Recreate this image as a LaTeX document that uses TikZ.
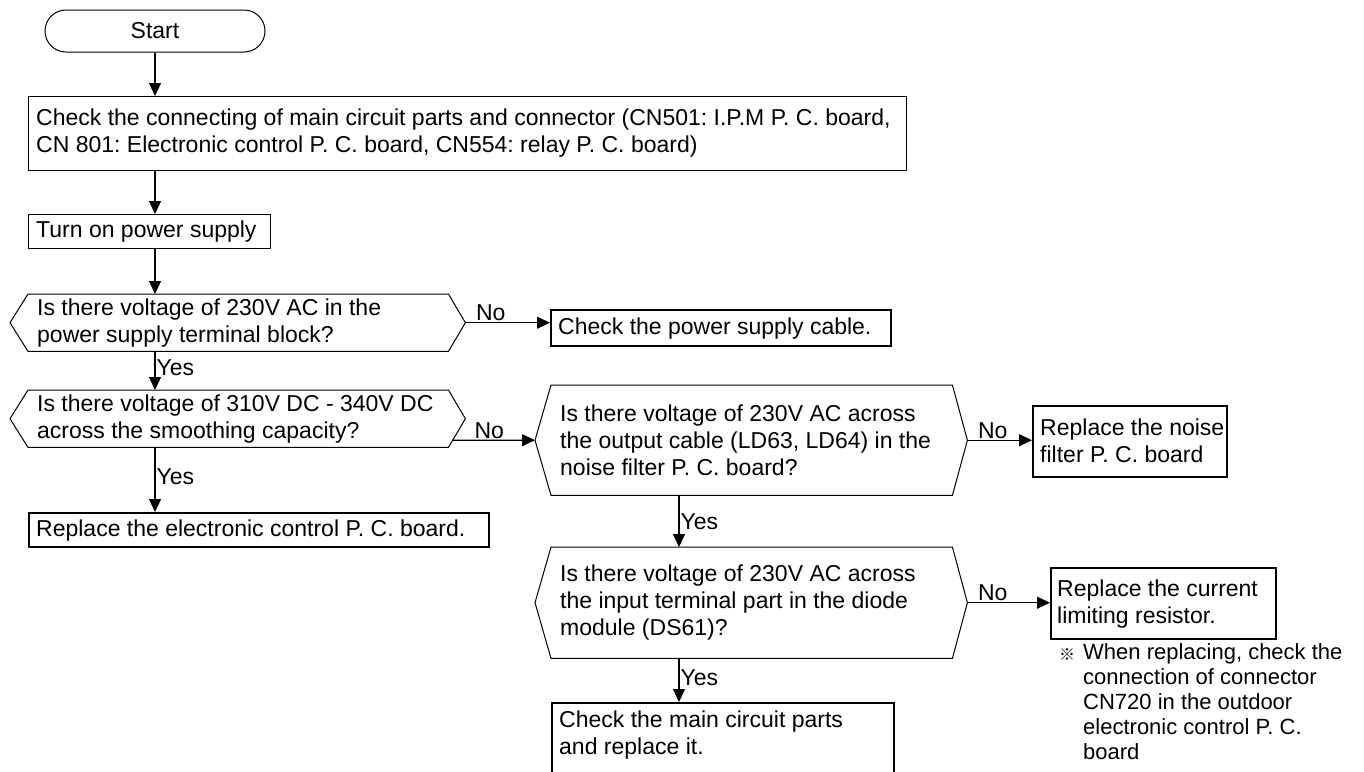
\documentclass[tikz,border=0pt]{standalone}
\usepackage{fontspec}
\setmainfont{Liberation Sans}
\newfontfamily\cjkfont{Noto Sans CJK JP}
\usetikzlibrary{arrows.meta,calc,intersections}
\frenchspacing
\newcommand\hexframe[3]{%
  \draw[line width=1pt,name path=#1frame] (#1.north west) -- (#1.north east) -- ([xshift=#3]#1.east) coordinate (#1R)
    -- (#1.south east) -- (#1.south west) -- ([xshift=-#2]#1.west) coordinate (#1L) -- cycle;}
\newcommand\intext[3]{\node[txt, anchor=west] (#1t) at ([xshift=#2]#1.west) {#3};}
\begin{document}
\begin{tikzpicture}[x=1pt,y=-1pt,
  every node/.style={font=\fontsize{23}{27}\selectfont},
  txt/.style={inner sep=0pt, align=left},
  box/.style={draw, line width=1pt, anchor=north west, inner sep=0pt},
  res/.style={box, line width=2.2pt},
  hex/.style={anchor=north west, inner sep=0pt},
  arr/.style={-{Triangle[length=13pt,width=12pt]}, line width=1.2pt},
  lab/.style={inner sep=1pt}]
\useasboundingbox (0,0) rectangle (1364,771);
\clip (0,0) rectangle (1364,771);

\node[draw, line width=1pt, rounded corners=21pt, minimum width=220pt, minimum height=42pt] (start) at (155,31) {Start};

\node[box, minimum width=878pt, minimum height=74pt] (b1) at (28,96) {};
\intext{b1}{8pt}{Check the connecting of main circuit parts and connector (CN501: I.P.M P. C. board,\\CN 801: Electronic control P. C. board, CN554: relay P. C. board)}

\node[box, minimum width=242pt, minimum height=34pt] (b2) at (28,214) {};
\intext{b2}{8pt}{Turn on power supply}

\node[hex, minimum width=420pt, minimum height=57pt] (h1) at (28,294) {};
\hexframe{h1}{18pt}{17pt}
\intext{h1}{9pt}{Is there voltage of 230V AC in the\\power supply terminal block?}

\node[res, minimum width=340pt, minimum height=36pt] (b3) at (550,309) {};
\intext{b3}{8pt}{Check the power supply cable.}

\node[hex, minimum width=420pt, minimum height=57pt] (h2) at (28,390) {};
\hexframe{h2}{18pt}{17pt}
\intext{h2}{9pt}{Is there voltage of 310V DC - 340V DC\\across the smoothing capacity?}

\node[res, minimum width=460pt, minimum height=34pt] (b4) at (28,512) {};
\intext{b4}{8pt}{Replace the electronic control P. C. board.}

\node[hex, minimum width=401pt, minimum height=110pt] (h3) at (551,385) {};
\hexframe{h3}{16pt}{15pt}
\intext{h3}{9pt}{Is there voltage of 230V AC across\\the output cable (LD63, LD64) in the\\noise filter P. C. board?}

\node[res, minimum width=194pt, minimum height=71pt] (b5) at (1032,404.5) {};
\intext{b5}{8pt}{Replace the noise\\filter P. C. board}

\node[hex, minimum width=401pt, minimum height=111pt] (h4) at (551,547) {};
\hexframe{h4}{16pt}{15pt}
\intext{h4}{9pt}{Is there voltage of 230V AC across\\the input terminal part in the diode\\module (DS61)?}

\node[res, minimum width=225pt, minimum height=71pt] (b6) at (1050,567) {};
\intext{b6}{7pt}{Replace the current\\limiting resistor.}

\node[res, minimum width=342pt, minimum height=72pt] (b7) at (551,702) {};
\node[txt, anchor=north west] (b7t) at (559,711) {Check the main circuit parts\\and replace it.};

\node[anchor=north west, inner sep=0pt, align=left, font=\fontsize{22}{25}\selectfont] (note) at (1083,643)
  {When replacing, check the\\connection of connector\\CN720 in the outdoor\\electronic control P. C.\\board};
\node[inner sep=0pt, font=\cjkfont\fontsize{16}{16}\selectfont] (mark) at (1067,655) {※};

% vertical flow
\draw[arr] (start.south) -- (start.south |- b1.north);
\draw[arr] (start.south |- b1.south) -- (start.south |- b2.north);
\draw[arr] (start.south |- b2.south) -- (start.south |- h1.north);
\draw[arr] (start.south |- h1.south) -- node[lab, right, pos=0.42] {Yes} (start.south |- h2.north);
\draw[arr] (start.south |- h2.south) -- node[lab, right, pos=0.45] {Yes} (start.south |- b4.north);
\coordinate (col) at (679,0);
\draw[arr] (col |- h3.south) -- node[lab, right, pos=0.5] {Yes} (col |- h4.north);
\draw[arr] (col |- h4.south) -- node[lab, right, pos=0.45] {Yes} (col |- b7.north);

% No branches
\draw[arr] (h1R) -- node[lab, pos=0, anchor=south west, xshift=9pt] {No} (h1R -| b3.west);
\path[name path=h3ray] (h3L) -- ++(-200,0);
\path[name intersections={of=h2frame and h3ray, by=h2out}];
\draw[arr] (h2out) -- (h3L);
\node[lab, anchor=south west] (no2) at ([xshift=8pt]h2R |- h2out) {No};
\draw[arr] (h3R) -- node[lab, pos=0, anchor=south west, xshift=9pt] {No} (h3R -| b5.west);
\draw[arr] (h4R) -- node[lab, pos=0, anchor=south west, xshift=9pt] {No} (h4R -| b6.west);
\end{tikzpicture}
\end{document}
